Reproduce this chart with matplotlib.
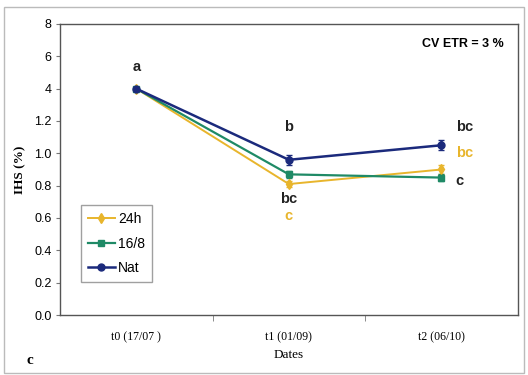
import numpy as np
import matplotlib.pyplot as plt
from matplotlib.patches import Rectangle
from matplotlib.lines import Line2D

# Data
dates = ['t0 (17/07 )', 't1 (01/09)', 't2 (06/10)']
ihs_24h = [4.0, 0.81, 0.90]
ihs_168 = [4.0, 0.87, 0.85]
ihs_nat = [4.0, 0.96, 1.05]
err_24h = [0.02, 0.02, 0.03]
err_168 = [0.02, 0.02, 0.02]
err_nat = [0.02, 0.03, 0.03]

# broken y axis: 0..1.2 then 4, 6, 8 at equal spacing
ytick_vals = [0.0, 0.2, 0.4, 0.6, 0.8, 1.0, 1.2, 4, 6, 8]
ytick_lbls = ['0.0', '0.2', '0.4', '0.6', '0.8', '1.0', '1.2', '4', '6', '8']
knots_v = np.array([0.0, 1.2, 4.0, 6.0, 8.0])
knots_p = np.array([0.0, 1.2, 1.4, 1.6, 1.8])


def fwd(y):
    return np.interp(y, knots_v, knots_p, left=-1, right=3)


def inv(p):
    return np.interp(p, knots_p, knots_v, left=-1, right=10)


c24 = '#e8b52c'
c168 = '#1f8a66'
cnat = '#1b2a7c'

fig = plt.figure(figsize=(5.28, 3.75), dpi=100)
ax = fig.add_axes([0.1136, 0.16, 0.867, 0.776])
ax.set_yscale('function', functions=(fwd, inv))

x = np.arange(len(dates))
series = [('24h', ihs_24h, err_24h, c24, 'd', 1.4),
          ('16/8', ihs_168, err_168, c168, 's', 1.6),
          ('Nat', ihs_nat, err_nat, cnat, 'o', 1.8)]
handles = []
for name, vals, errs, col, mk, lw in series:
    ax.errorbar(x, vals, yerr=errs, color=col, marker=mk, ms=5, lw=lw, capsize=2)
    handles.append(Line2D([], [], color=col, marker=mk, ms=5, lw=lw, label=name))

ax.set_xlim(-0.5, 2.5)
ax.set_ylim(0, 8)
ax.set_yticks(ytick_vals)
ax.set_yticklabels(ytick_lbls, fontsize=9, family='Liberation Sans')
ax.yaxis.set_minor_locator(plt.NullLocator())
ax.set_xticks(x)
ax.set_xticklabels(dates, fontsize=8.5, family='Liberation Serif')
ax.set_xticks([0.5, 1.5], minor=True)
ax.tick_params(axis='x', which='major', length=0, pad=12)
ax.tick_params(axis='x', which='minor', length=4, color='#777777')
ax.tick_params(axis='y', length=3, color='#777777', pad=3)
for s in ax.spines.values():
    s.set_color('#555555')
    s.set_linewidth(1.0)

ax.set_ylabel('IHS (%)', fontsize=9.5, fontweight='bold', family='Liberation Serif',
              labelpad=6)
ax.set_xlabel('Dates', fontsize=9.5, family='Liberation Serif', labelpad=4)

# significance letters
bold = dict(fontsize=10.5, fontweight='bold', family='Liberation Sans', ha='center')
ax.text(0, 5.36, 'a', color='#222222', va='center', **bold)
ax.text(1, 1.16, 'b', color='#222222', va='center', **bold)
ax.text(1, 0.72, 'bc', color='#222222', va='center', **bold)
ax.text(1, 0.61, 'c', color=c24, va='center', **bold)
ax.text(2.15, 1.16, 'bc', color='#222222', va='center', **bold)
ax.text(2.15, 1.0, 'bc', color=c24, va='center', **bold)
ax.text(2.12, 0.83, 'c', color='#222222', va='center', **bold)
ax.text(0.97, 0.93, 'CV ETR = 3 %', transform=ax.transAxes, fontsize=9,
        fontweight='bold', family='Liberation Sans', ha='right', va='center')

leg = ax.legend(handles=handles, loc='lower left', bbox_to_anchor=(0.03, 0.09),
                prop={'family': 'Liberation Sans', 'size': 10},
                frameon=True, fancybox=False, handlelength=2.0,
                handletextpad=0.2, borderpad=0.5, labelspacing=0.75)
leg.get_frame().set_edgecolor('#888888')

fig.text(0.05, 0.03, 'c', fontsize=11, fontweight='bold', family='Liberation Serif')
fig.patches.append(Rectangle((0.008, 0.006), 0.984, 0.975, transform=fig.transFigure,
                             fill=False, edgecolor='#bbbbbb', lw=1.0))

fig.savefig('out.png', dpi=100)
